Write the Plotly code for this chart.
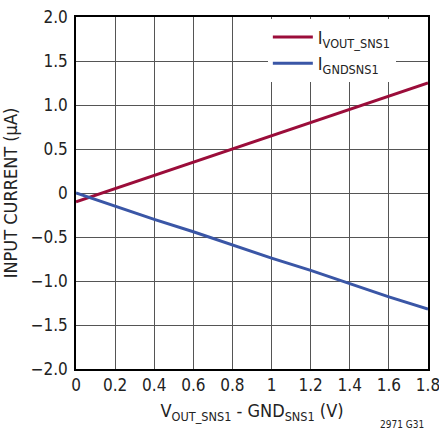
import plotly.graph_objects as go

# readings from the reference, every 0.2 V
v_diff = [0.0, 0.2, 0.4, 0.6, 0.8, 1.0, 1.2, 1.4, 1.6, 1.8]
i_vout_sns1 = [-0.10, 0.05, 0.20, 0.35, 0.50, 0.65, 0.80, 0.95, 1.10, 1.25]
i_gndsns1 = [0.00, -0.15, -0.30, -0.44, -0.59, -0.74, -0.88, -1.03, -1.18, -1.32]

x_ticks = [0, 0.2, 0.4, 0.6, 0.8, 1.0, 1.2, 1.4, 1.6, 1.8]
x_ticktext = ["0", "0.2", "0.4", "0.6", "0.8", "1", "1.2", "1.4", "1.6", "1.8"]
y_ticks = [2.0, 1.5, 1.0, 0.5, 0, -0.5, -1.0, -1.5, -2.0]
y_ticktext = ["2.0", "1.5", "1.0", "0.5", "0", "\u22120.5", "\u22121.0", "\u22121.5", "\u22122.0"]

font = "DejaVu Sans Condensed, Liberation Sans Narrow, Liberation Sans, sans-serif"

fig = go.Figure()
fig.add_trace(go.Scatter(x=v_diff, y=i_vout_sns1, mode="lines",
                         name="I<sub>VOUT_SNS1</sub>",
                         line=dict(color="#9b0d3a", width=3)))
fig.add_trace(go.Scatter(x=v_diff, y=i_gndsns1, mode="lines",
                         name="I<sub>GNDSNS1</sub>",
                         line=dict(color="#3a56a6", width=3)))

axis_common = dict(showgrid=True, gridcolor="#555555", gridwidth=1,
                   showline=True, linecolor="black", linewidth=1.5, mirror=True,
                   zeroline=False, ticks="", automargin=False,
                   ticklabeloverflow="allow",
                   tickfont=dict(size=17, color="#222"))

fig.update_xaxes(range=[0, 1.8], tickvals=x_ticks, ticktext=x_ticktext,
                 title=dict(text="V<sub>OUT_SNS1</sub> - GND<sub>SNS1</sub> (V)",
                            font=dict(size=18, color="#222"), standoff=10),
                 **axis_common)
fig.update_yaxes(range=[-2.0, 2.0], tickvals=y_ticks, ticktext=y_ticktext,
                 ticklabelstandoff=3,
                 title=dict(text="INPUT CURRENT (\u00b5A)",
                            font=dict(size=18, color="#222"), standoff=10),
                 **axis_common)

fig.add_annotation(text="2971 G31", xref="paper", yref="paper", x=0.995, y=-0.135,
                   xanchor="right", yanchor="top", showarrow=False,
                   font=dict(size=10, color="#222"))

fig.update_layout(
    width=439, height=436,
    margin=dict(l=76, r=11, t=17, b=67),
    paper_bgcolor="white", plot_bgcolor="white",
    font=dict(family=font, color="#222"),
    legend=dict(x=0.545, y=0.995, xanchor="left", yanchor="top",
                bgcolor="white", borderwidth=0,
                font=dict(size=18, color="#222"),
                tracegroupgap=0, itemwidth=40),
)

# drop the page's default body margin so the figure sits at the window corner
fig.write_html("out.html", config={"displayModeBar": False},
               post_script="document.body.style.margin='0';")
